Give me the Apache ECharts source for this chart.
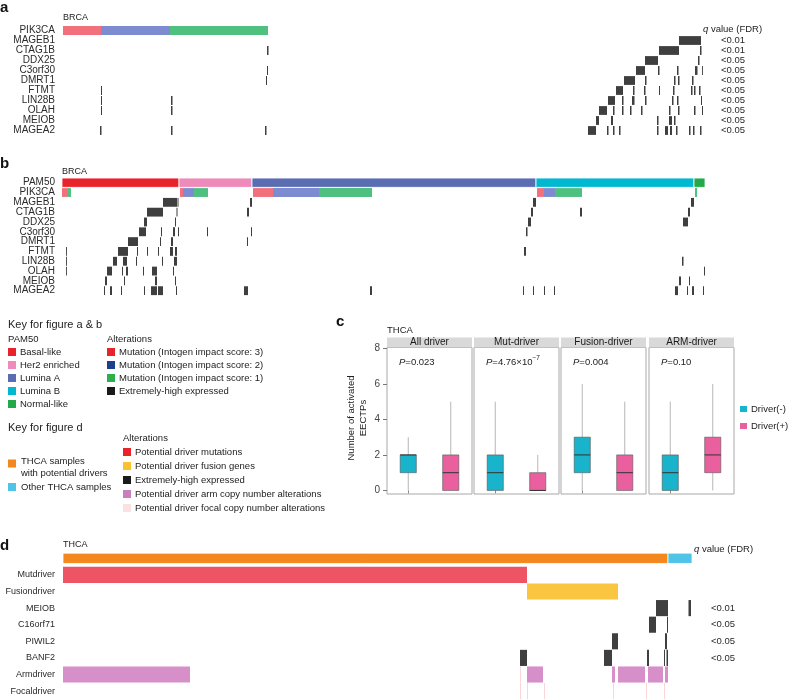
<!DOCTYPE html>
<html>
<head>
<meta charset="utf-8">
<script src="https://cdn.jsdelivr.net/npm/echarts@6.0.0/dist/echarts.min.js"></script>
<style>html,body{margin:0;padding:0;background:#fff}#c{width:788px;height:700px}</style>
</head>
<body>
<div id="c"></div>
<script>
// ---------- DATA ----------
// Panel a (BRCA, PIK3CA-mutated samples ordered); x = sample position
const rowsA = ['PIK3CA','MAGEB1','CTAG1B','DDX25','C3orf30','DMRT1','FTMT','LIN28B','OLAH','MEIOB','MAGEA2'];
const qA = ['', '<0.01','<0.01','<0.05','<0.05','<0.05','<0.05','<0.05','<0.05','<0.05','<0.05'];
const samplesA = 640;
// [start, end, impact score]
const mutA = [[0,38,3],[38,107,2],[107,205,1]];
// [gene, start, end]  extremely-high expression
const exprA = [
 ['MAGEB1',616,638],
 ['CTAG1B',204,205.5],['CTAG1B',596,616],['CTAG1B',637,638.5],
 ['DDX25',582,595],['DDX25',635,636.5],
 ['C3orf30',204,205],['C3orf30',573,582],['C3orf30',595,596.5],['C3orf30',614,615.5],['C3orf30',632,634.5],['C3orf30',639,639.8],
 ['DMRT1',203,204],['DMRT1',561,572],['DMRT1',582,583.5],['DMRT1',611,612.5],['DMRT1',615,616.5],['DMRT1',629,630.5],
 ['FTMT',38,39],['FTMT',553,560],['FTMT',570,571.5],['FTMT',581,582.5],['FTMT',596,597],['FTMT',610,611.5],['FTMT',628,629.5],['FTMT',631,632.5],['FTMT',636,637.5],
 ['LIN28B',38,39],['LIN28B',108,109.5],['LIN28B',545,552],['LIN28B',559,560.5],['LIN28B',569,571.5],['LIN28B',582,583.5],['LIN28B',609,610.5],['LIN28B',614,615.5],['LIN28B',638,639],
 ['OLAH',38,39],['OLAH',108,109.5],['OLAH',536,544],['OLAH',550,551.5],['OLAH',559,560.5],['OLAH',567,568.5],['OLAH',578,579.5],['OLAH',606,607.5],['OLAH',615,616.5],['OLAH',631,632.5],['OLAH',639,640],
 ['MEIOB',533,536],['MEIOB',548,550],['MEIOB',594,595.5],['MEIOB',606,609],['MEIOB',611,612.5],
 ['MAGEA2',37,38.5],['MAGEA2',108,109.5],['MAGEA2',202,203.5],['MAGEA2',525,533],['MAGEA2',544,545.5],['MAGEA2',550,551.5],['MAGEA2',556,557.5],['MAGEA2',594,595.5],['MAGEA2',602,605],['MAGEA2',607,609],['MAGEA2',613,614.5],['MAGEA2',626,627.5],['MAGEA2',630,631.5],['MAGEA2',637,638.5]
];

// Panel b (BRCA ordered by PAM50)
const rowsB = ['PAM50','PIK3CA','MAGEB1','CTAG1B','DDX25','C3orf30','DMRT1','FTMT','LIN28B','OLAH','MEIOB','MAGEA2'];
const samplesB = 643;
// [start, end, subtype index]
const pam50B = [[0,117,0],[117,190,1],[190,474,2],[474,632,3],[632,643,4]];
const mutB = [[0,6,3],[6,9,1],[118,121,3],[121,132,2],[132,146,1],[191,211,3],[211,257,2],[257,310,1],[475,482,3],[482,493,2],[493,520,1],[633,635,1]];
const exprB = [
 ['MAGEB1',101,115],['MAGEB1',115.5,116.5],['MAGEB1',188,190],['MAGEB1',471,474],['MAGEB1',629,632],
 ['CTAG1B',85,101],['CTAG1B',114.5,115.5],['CTAG1B',185,187],['CTAG1B',469,471],['CTAG1B',518,520],['CTAG1B',626,628],
 ['DDX25',82,85],['DDX25',113,114],['DDX25',466,469],['DDX25',621,626],
 ['C3orf30',77,84],['C3orf30',99,100],['C3orf30',111,113],['C3orf30',116,117],['C3orf30',145,146],['C3orf30',189,190],['C3orf30',464,465.5],
 ['DMRT1',66,76],['DMRT1',98,99],['DMRT1',109,111],['DMRT1',185,186],
 ['FTMT',4,4.8],['FTMT',56,66],['FTMT',75,76],['FTMT',85,86],['FTMT',96,97],['FTMT',108,111],['FTMT',113,115],['FTMT',462,464],
 ['LIN28B',4,4.8],['LIN28B',51,55],['LIN28B',61,65],['LIN28B',74,75],['LIN28B',100,101],['LIN28B',112,115],['LIN28B',620,621.5],
 ['OLAH',4,4.8],['OLAH',45,50],['OLAH',60,61],['OLAH',64,66],['OLAH',81,82],['OLAH',90,95],['OLAH',111,112],['OLAH',642,643],
 ['MEIOB',43,45],['MEIOB',62,63],['MEIOB',93,95],['MEIOB',113,114],['MEIOB',617,619],['MEIOB',627,628],
 ['MAGEA2',42,43],['MAGEA2',48,50],['MAGEA2',59,60],['MAGEA2',82,83],['MAGEA2',89,95],['MAGEA2',96,101],['MAGEA2',114,115],['MAGEA2',182,186],['MAGEA2',308,310],['MAGEA2',461,462],['MAGEA2',471,472],['MAGEA2',482,483],['MAGEA2',492,493],['MAGEA2',613,616],['MAGEA2',625,626],['MAGEA2',630,632],['MAGEA2',641,642]
];

// Key labels
const pam50Names = ['Basal-like','Her2 enriched','Lumina A','Lumina B','Normal-like'];
const altNamesAB = ['Mutation (Intogen impact score: 3)','Mutation (Intogen impact score: 2)','Mutation (Intogen impact score: 1)','Extremely-high expressed'];
const sampleNamesD = ['THCA samples\nwith potential drivers','Other THCA samples'];
const altNamesD = ['Potential driver mutations','Potential driver fusion genes','Extremely-high expressed','Potential driver arm copy number alterations','Potential driver focal copy number alterations'];

// Panel c (THCA boxplots): [min, Q1, median, Q3, max]
const facets = ['All driver','Mut-driver','Fusion-driver','ARM-driver'];
const groups = ['Driver(-)','Driver(+)'];
const pLabels = ['0.023','4.76\u00d710','0.004','0.10'];
const pExp = ['','\u22127','',''];
const boxNeg = [[0,1,2,2,3],[0,0,1,2,5],[0,1,2,3,6],[0,0,1,2,5]];
const boxPos = [[0,0,1,2,5],[0,0,0,1,2],[0,0,1,2,5],[0,1,2,3,6]];
const yTicksC = [0,2,4,6,8];

// Panel d (THCA)
const rowsD = ['','Mutdriver','Fusiondriver','MEIOB','C16orf71','PIWIL2','BANF2','Armdriver','Focaldriver'];
const qD = ['','','','<0.01','<0.05','<0.05','<0.05','',''];
const samplesD = 629;
const thcaD = [[0,605,0],[605,629,1]];
const mutD = [[0,464]];
const fusionD = [[464,555]];
const exprD = [['MEIOB',593,605],['MEIOB',625.5,628],['C16orf71',586,593],['C16orf71',604,605],['PIWIL2',549,555],['PIWIL2',602,604],
 ['BANF2',457,464],['BANF2',541,549],['BANF2',584,586],['BANF2',601,602],['BANF2',603.5,605]];
const armD = [[0,127],[457,458],[464,480],[549,552],[555,582],[585,600],[602,605]];
const focalD = [[457,458],[464,465],[481,482],[550,551],[583,584],[601,602]];

// ---------- STYLE ----------
const FONT = "'Liberation Sans', Arial, Helvetica, sans-serif";
const pam50Colors = ['#e8232b','#ee8bbb','#5a6db3','#00b8d0','#25a84a'];
const altColorsAB = ['#e8232b','#1d3f8f','#2db04b','#1a1a1a'];
const oncoMutColors = {3:'#f2707c',2:'#7d8cd0',1:'#4fc07f'};
const exprColor = '#3f3f3f';
const sampleColorsD = ['#f5871f','#4fc4e6'];
const altColorsD = ['#e8232b','#fcc22d','#1a1a1a','#c77fbf','#fbe1e1'];
const barColorsD = {mut:'#ef5465',fusion:'#fac640',arm:'#d78fca',focal:'#f9d6da'};
const boxColors = ['#19b3cc','#ea609f'];

// ---------- BUILD ----------
function oncoSeries(xi, yi, data, hFn) {
  return {
    type:'custom', xAxisIndex:xi, yAxisIndex:yi, silent:true,
    encode:{x:[0,1], y:2},
    data: data.map(d => [d[0], d[1], d[2]]),
    renderItem: function(params, api) {
      const item = data[params.dataIndex];
      const s = api.value(0), e = api.value(1), r = api.value(2);
      const p0 = api.coord([s, r]), p1 = api.coord([e, r]);
      const band = api.size([0, 1])[1];
      const h = band * hFn(r);
      return {type:'rect', shape:{x:p0[0], y:p0[1]-h/2, width:Math.max(p1[0]-p0[0], 0.9), height:h},
        style:{fill:item[3], stroke:item[4] ? '#ffffff' : null, lineWidth:item[4] ? 0.8 : 0}};
    }
  };
}

const dataA = [];
mutA.forEach(m => dataA.push([m[0], m[1], 0, oncoMutColors[m[2]]]));
exprA.forEach(e => dataA.push([e[1], e[2], rowsA.indexOf(e[0]), exprColor]));

const dataB = [];
pam50B.forEach(p => dataB.push([p[0], p[1], 0, pam50Colors[p[2]], 1]));
mutB.forEach(m => dataB.push([m[0], m[1], 1, oncoMutColors[m[2]]]));
exprB.forEach(e => dataB.push([e[1], e[2], rowsB.indexOf(e[0]), exprColor]));

const dataD = [];
thcaD.forEach(t => dataD.push([t[0], t[1], 0, sampleColorsD[t[2]], 1]));
mutD.forEach(m => dataD.push([m[0], m[1], 1, barColorsD.mut]));
fusionD.forEach(m => dataD.push([m[0], m[1], 2, barColorsD.fusion]));
exprD.forEach(e => dataD.push([e[1], e[2], rowsD.indexOf(e[0]), exprColor]));
armD.forEach(m => dataD.push([m[0], m[1], 7, m[1]-m[0] <= 1 ? barColorsD.focal : barColorsD.arm]));
focalD.forEach(m => dataD.push([m[0], m[1], 8, barColorsD.focal]));

function boxRender(params, api) {
  const xi = api.value(0);
  const v = [1,2,3,4,5].map(i => api.value(i));
  const col = boxColors[api.value(6)];
  const pts = v.map(val => api.coord([xi, val]));
  const cx = pts[0][0];
  const hw = api.size([1, 0])[0] * 0.19;
  return {type:'group', children:[
    {type:'line', shape:{x1:cx, y1:pts[0][1], x2:cx, y2:pts[1][1]}, style:{stroke:'#a3a3a3', lineWidth:0.8}},
    {type:'line', shape:{x1:cx, y1:pts[3][1], x2:cx, y2:pts[4][1]}, style:{stroke:'#a3a3a3', lineWidth:0.8}},
    {type:'rect', shape:{x:cx-hw, y:pts[3][1], width:2*hw, height:Math.max(pts[1][1]-pts[3][1], 1)}, style:{fill:col, stroke:'#555', lineWidth:0.6}},
    {type:'line', shape:{x1:cx-hw, y1:pts[2][1], x2:cx+hw, y2:pts[2][1]}, style:{stroke:'#333', lineWidth:1}}
  ]};
}

const cLefts = [387, 474, 561, 649];
const cTop = 347.5, cH = 146.5, cW = 85;

const grids = [
  {left:63, top:25.5, width:640, height:110},
  {left:62, top:177.8, width:643, height:117.8},
  {left:63, top:550, width:629, height:149.4}
];
cLefts.forEach(l => grids.push({left:l, top:cTop, width:cW, height:cH, show:true, borderColor:'#a8a8a8', borderWidth:1, backgroundColor:'#fff'}));

const xAxes = [
  {gridIndex:0, type:'value', min:0, max:samplesA, show:false},
  {gridIndex:1, type:'value', min:0, max:samplesB, show:false},
  {gridIndex:2, type:'value', min:0, max:samplesD, show:false}
];
cLefts.forEach((l, i) => xAxes.push({gridIndex:3+i, type:'category', data:groups,
  axisLine:{show:false}, axisTick:{show:true, alignWithLabel:true, length:3, lineStyle:{color:'#8a8a8a'}},
  axisLabel:{show:false}, splitLine:{show:false}}));

const catAxis = (gi, data, pos, margin, fs) => ({gridIndex:gi, type:'category', data, inverse:true, position:pos,
  axisLine:{show:false}, axisTick:{show:false}, splitLine:{show:false},
  axisLabel:{margin, fontSize:fs, color:'#2a2a2a', fontFamily:FONT, interval:0, align: pos === 'left' ? 'right' : 'left'}});

const yAxes = [
  catAxis(0, rowsA, 'left', 8, 10),
  catAxis(0, qA, 'right', 18, 9.5),
  catAxis(1, rowsB, 'left', 7, 10),
  catAxis(2, rowsD, 'left', 8, 9),
  catAxis(2, qD, 'right', 19, 9.5)
];
cLefts.forEach((l, i) => yAxes.push({gridIndex:3+i, type:'value', min:-0.2, max:8.05,
  axisLine:{show:false}, splitLine:{show:false},
  axisTick:{show:i===0, length:4, customValues:yTicksC, lineStyle:{color:'#777'}},
  axisLabel:{show:i===0, customValues:yTicksC, margin:7, fontSize:10, color:'#444', fontFamily:FONT}}));

const series = [
  oncoSeries(0, 0, dataA, r => 0.88),
  oncoSeries(1, 2, dataB, r => r === 0 ? 0.95 : 0.9),
  oncoSeries(2, 3, dataD, r => r === 0 ? 0.62 : 0.97)
];
cLefts.forEach((l, i) => series.push({type:'custom', xAxisIndex:3+i, yAxisIndex:5+i, silent:true,
  encode:{x:0, y:[1,2,3,4,5]},
  data:[[0].concat(boxNeg[i], [0]), [1].concat(boxPos[i], [1])],
  renderItem:boxRender}));

// ---------- GRAPHICS (text, keys, strips) ----------
const g = [];
function txt(x, y, text, size, opt) {
  opt = opt || {};
  g.push({type:'text', x, y, rotation:opt.rotation||0, silent:true, z:10,
    style:{text, fill:opt.color||'#222', fontSize:size, fontFamily:FONT, fontWeight:opt.weight||'normal',
      fontStyle:opt.style||'normal', align:opt.align||'left', verticalAlign:opt.valign||'middle',
      textAlign:opt.align||'left', textVerticalAlign:opt.valign||'middle', lineHeight:opt.lh, rich:opt.rich}});
}
function rect(x, y, w, h, fill, stroke) {
  g.push({type:'rect', shape:{x, y, width:w, height:h}, silent:true, z:5, style:{fill, stroke:stroke||null, lineWidth:stroke?1:0}});
}
const italic = {i:{fontStyle:'italic', fontFamily:FONT, fontSize:9.5, fill:'#222'}};

// panel letters
txt(0, 8, 'a', 15, {weight:'bold', color:'#111'});
txt(0, 164, 'b', 15, {weight:'bold', color:'#111'});
txt(336, 322, 'c', 15, {weight:'bold', color:'#111'});
txt(0, 546, 'd', 15, {weight:'bold', color:'#111'});

// panel a/b/d headers
txt(63, 18, 'BRCA', 9);
txt(703, 29, '{i|q} value (FDR)', 9.5, {rich:italic});
txt(62, 172, 'BRCA', 9);
txt(63, 545, 'THCA', 9);
txt(694, 549, '{i|q} value (FDR)', 9.5, {rich:italic});

// key a & b
txt(8, 325, 'Key for figure a & b', 11);
txt(8, 339, 'PAM50', 9.5);
pam50Names.forEach((n, i) => { rect(8, 348 + i*13, 8, 8, pam50Colors[i]); txt(20, 352 + i*13, n, 9.5); });
txt(107, 339, 'Alterations', 9.5);
altNamesAB.forEach((n, i) => { rect(107, 348 + i*13, 8, 8, altColorsAB[i]); txt(119, 352 + i*13, n, 9.5); });

// key d
txt(8, 428, 'Key for figure d', 11);
rect(8, 459.5, 8, 8, sampleColorsD[0]); txt(21, 467, sampleNamesD[0], 9.5, {lh:12});
rect(8, 483, 8, 8, sampleColorsD[1]); txt(21, 487, sampleNamesD[1], 9.5);
txt(123, 438, 'Alterations', 9.5);
altNamesD.forEach((n, i) => { rect(123, 448 + i*14, 8, 8, altColorsD[i]); txt(135, 452 + i*14, n, 9.5); });

// panel c
txt(387, 330, 'THCA', 9.5);
txt(357, 418, 'Number of activated\nEECTPs', 9.5, {rotation:Math.PI/2, align:'center', lh:12});
cLefts.forEach((l, i) => {
  rect(l, 337.5, cW, 10, '#d9d9d9');
  txt(l + cW/2, 342.7, facets[i], 10, {align:'center', color:'#1a1a1a'});
  const sup = pExp[i] ? '{s|' + pExp[i] + '}' : '';
  txt(l + 12, 362, '{i|P}=' + pLabels[i] + sup, 9.5,
    {rich:{i:italic.i, s:{fontSize:6.5, fontFamily:FONT, fill:'#222', padding:[0,0,7,0]}}});
});
groups.forEach((n, i) => { rect(740, 406 + i*17, 7, 6, boxColors[i]); txt(751, 409 + i*17, n, 9.5); });

const option = {
  animation:false,
  backgroundColor:'#fff',
  textStyle:{fontFamily:FONT},
  grid:grids, xAxis:xAxes, yAxis:yAxes, series, graphic:g
};
const chart = echarts.init(document.getElementById('c'), null, {renderer:'canvas'});
chart.setOption(option);
</script>
</body>
</html>
